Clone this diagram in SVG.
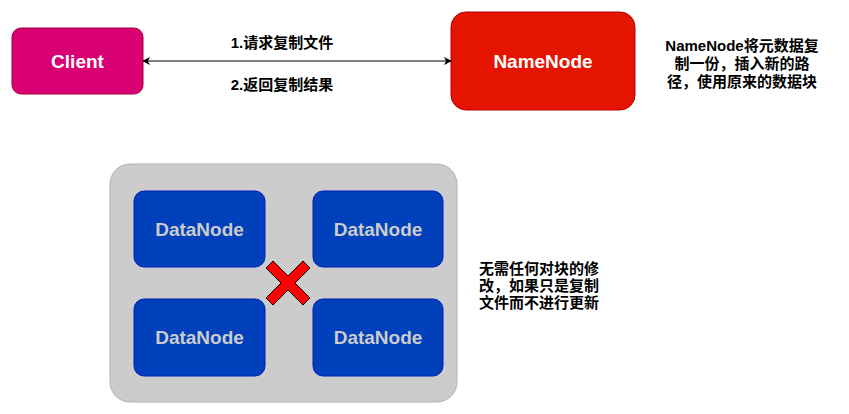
<svg xmlns="http://www.w3.org/2000/svg" width="849" height="414" viewBox="0 0 849 414">
<defs>
<marker id="ah" viewBox="0 0 10 10" refX="9" refY="5" markerWidth="8" markerHeight="8" orient="auto-start-reverse" markerUnits="userSpaceOnUse">
<path d="M0,0 L10,5 L0,10 L3,5 Z" fill="#000"/>
</marker>
</defs>
<style>
text{font-family:"Liberation Sans","Noto Sans CJK SC",sans-serif;font-weight:bold;text-anchor:middle;dominant-baseline:central}
.lbl{font-size:15px;fill:#000}
.dn rect{fill:#0040bb;stroke:#001dbc;stroke-width:1}
.dn text{font-size:19px;fill:#cccccc}
</style>
<rect width="849" height="414" fill="#fff"/>
<g id="client">
<rect x="12" y="28" width="131" height="66" rx="9" fill="#d80073" stroke="#a50040"/>
<text x="77.5" y="61" style="font-size:19px;fill:#fff">Client</text>
</g>
<g id="namenode">
<rect x="451" y="12" width="184" height="98" rx="15" fill="#e51400" stroke="#b20000"/>
<text x="543" y="61" style="font-size:19px;fill:#fff">NameNode</text>
</g>
<g id="connectors">
<line x1="143" y1="61" x2="451" y2="61" stroke="#000" stroke-width="1" marker-start="url(#ah)" marker-end="url(#ah)"/>
</g>
<g id="labels">
<text class="lbl" x="282" y="42">1.请求复制文件</text>
<text class="lbl" x="282" y="84">2.返回复制结果</text>
<text class="lbl" x="742" y="45">NameNode将元数据复</text>
<text class="lbl" x="742" y="63">制一份，插入新的路</text>
<text class="lbl" x="742" y="81">径，使用原来的数据块</text>
<text class="lbl" x="539" y="268">无需任何对块的修</text>
<text class="lbl" x="539" y="285">改，如果只是复制</text>
<text class="lbl" x="539" y="302">文件而不进行更新</text>
</g>
<g id="container">
<rect x="110" y="164" width="347" height="238" rx="20" fill="#cccccc" stroke="#b3b3b3"/>
</g>
<g id="dn1" class="dn">
<rect x="134" y="191" width="131" height="76" rx="10"/>
<text x="199.5" y="229">DataNode</text>
</g>
<g id="dn2" class="dn">
<rect x="313" y="191" width="130" height="76" rx="10"/>
<text x="378" y="229">DataNode</text>
</g>
<g id="dn3" class="dn">
<rect x="134" y="299" width="131" height="77" rx="10"/>
<text x="199.5" y="337">DataNode</text>
</g>
<g id="dn4" class="dn">
<rect x="313" y="299" width="130" height="77" rx="10"/>
<text x="378" y="337">DataNode</text>
</g>
<g id="cross">
<path d="M266,268 L273,261 L288,276 L303,261 L310,268 L295,283 L310,298 L303,305 L288,290 L273,305 L266,298 L281,283 Z" fill="#ff0000" stroke="#000" stroke-width="1"/>
</g>
</svg>
